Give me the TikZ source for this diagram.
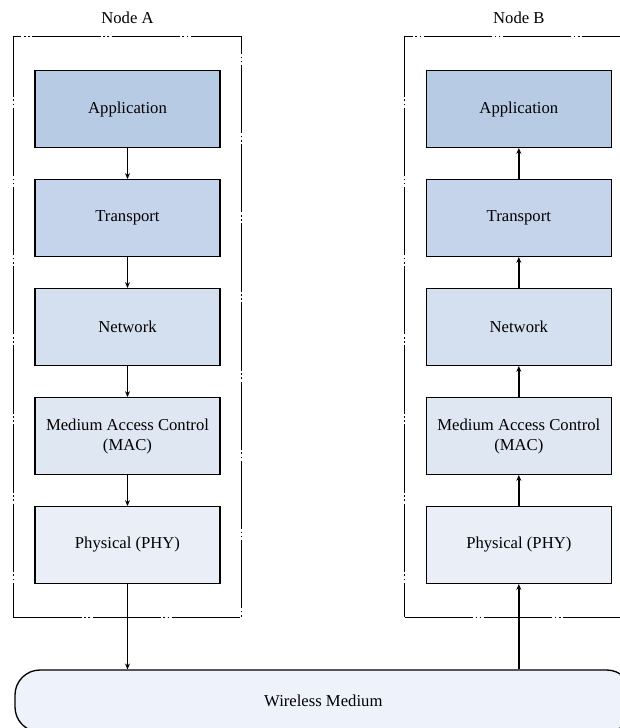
\documentclass[tikz,border=0pt]{standalone}
\usepackage{fontspec}
\setmainfont{Liberation Serif}
\usetikzlibrary{arrows.meta,positioning,fit}
\definecolor{appcol}{HTML}{B8CBE4}
\definecolor{trncol}{HTML}{C5D4EA}
\definecolor{netcol}{HTML}{D4DFEF}
\definecolor{maccol}{HTML}{DFE7F3}
\definecolor{phycol}{HTML}{E9EEF7}
\definecolor{medcol}{HTML}{EEF2FA}

\begin{document}
\begin{tikzpicture}[>={Stealth[length=3.5pt,width=3pt]},
  layer/.style={draw,line width=0.8pt,minimum width=111pt,minimum height=46pt,align=center,inner sep=2pt},
  host/.style={draw,line width=0.8pt,dash pattern=on 41pt off 1.5pt on 1pt off 1.5pt on 1pt off 1.5pt,inner xsep=12.6pt,inner ysep=20pt},
  medium/.style={draw,line width=0.8pt,rounded corners=15pt,fill=medcol,minimum width=370pt,minimum height=37.2pt},
  link/.style={->,line width=0.8pt}]
\useasboundingbox (0,0) rectangle (372pt,-436.8pt);
\clip (0,0) rectangle (372pt,-436.8pt);
% sender stack
\node[layer,fill=appcol] (appA) at (76.5pt,-65.4pt) {Application};
\node[layer,fill=trncol,below=18.6pt of appA] (trnA) {Transport};
\node[layer,fill=netcol,below=18.6pt of trnA] (netA) {Network};
\node[layer,fill=maccol,below=18.6pt of netA] (macA) {Medium Access Control\\(MAC)};
\node[layer,fill=phycol,below=18.6pt of macA] (phyA) {Physical (PHY)};
% receiver stack
\node[layer,fill=appcol,right=123pt of appA] (appB) {Application};
\node[layer,fill=trncol,below=18.6pt of appB] (trnB) {Transport};
\node[layer,fill=netcol,below=18.6pt of trnB] (netB) {Network};
\node[layer,fill=maccol,below=18.6pt of netB] (macB) {Medium Access Control\\(MAC)};
\node[layer,fill=phycol,below=18.6pt of macB] (phyB) {Physical (PHY)};
\node[host,fit=(appA)(phyA)] (hostA) {};
\node[host,fit=(appB)(phyB)] (hostB) {};
\node[above=4pt of hostA] (labA) {Node A};
\node[above=4pt of hostB] (labB) {Node B};
\node[medium] (wm) at (194pt,-420.6pt) {Wireless Medium};
\draw[link] (appA) -- (trnA);
\draw[link] (trnA) -- (netA);
\draw[link] (netA) -- (macA);
\draw[link] (macA) -- (phyA);
\draw[link] (phyA.south) -- (phyA.south |- wm.north);
\draw[link] (phyB.south |- wm.north) -- (phyB.south);
\draw[link] (phyB) -- (macB);
\draw[link] (macB) -- (netB);
\draw[link] (netB) -- (trnB);
\draw[link] (trnB) -- (appB);
\end{tikzpicture}
\end{document}
